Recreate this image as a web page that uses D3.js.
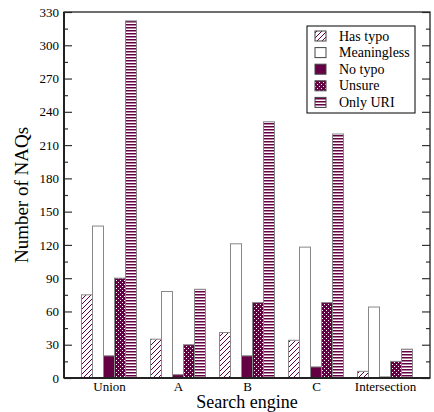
<!DOCTYPE html>
<html>
<head>
<meta charset="utf-8">
<script src="https://cdn.jsdelivr.net/npm/d3@7"></script>
<style>
  html, body { margin: 0; padding: 0; background: #fff; }
  svg text { font-family: "Liberation Serif", "Times New Roman", Times, "DejaVu Serif", serif; fill: #000; }
</style>
</head>
<body>
<div id="chart"></div>
<script>
// data
const engines = ['Union', 'A', 'B', 'C', 'Intersection'];
const seriesNames = ['Has typo', 'Meaningless', 'No typo', 'Unsure', 'Only URI'];
const hasTypo     = [75, 35, 41, 34, 6];
const meaningless = [137, 78, 121, 118, 64];
const noTypo      = [20, 3, 20, 10, 1];
const unsure      = [90, 30, 68, 68, 15];
const onlyUri     = [322, 80, 231, 220, 26];
const yTicks = [0, 30, 60, 90, 120, 150, 180, 210, 240, 270, 300, 330];

const seriesValues = [hasTypo, meaningless, noTypo, unsure, onlyUri];

const W = 434, H = 412;
const margin = { LEFT: 64, RIGHT: 4, TOP: 12, BOTTOM: 34 };
const WIDTH = W - margin.LEFT - margin.RIGHT;
const HEIGHT = H - margin.TOP - margin.BOTTOM;
const MAROON = '#660044';
const SERIF = '"Liberation Serif", "Times New Roman", Times, "DejaVu Serif", serif';

const svg = d3.select('#chart').append('svg')
  .attr('width', W)
  .attr('height', H)
  .attr('font-family', SERIF);

// patterns
const defs = svg.append('defs');

const pDiag = defs.append('pattern')
  .attr('id', 'p-diag')
  .attr('patternUnits', 'userSpaceOnUse')
  .attr('width', 5).attr('height', 5);
pDiag.append('rect').attr('width', 5).attr('height', 5).attr('fill', '#fff');
pDiag.append('path')
  .attr('d', 'M-1,6 L6,-1 M-1,1 L1,-1 M4,6 L6,4')
  .attr('stroke', MAROON).attr('stroke-width', 1);

const pHoriz = defs.append('pattern')
  .attr('id', 'p-horiz')
  .attr('patternUnits', 'userSpaceOnUse')
  .attr('width', 4).attr('height', 3);
pHoriz.append('rect').attr('width', 4).attr('height', 3).attr('fill', '#fff');
pHoriz.append('rect').attr('width', 4).attr('height', 1.5).attr('fill', MAROON);

const pCheck = defs.append('pattern')
  .attr('id', 'p-check')
  .attr('patternUnits', 'userSpaceOnUse')
  .attr('width', 4).attr('height', 4);
pCheck.append('rect').attr('width', 4).attr('height', 4).attr('fill', MAROON);
pCheck.append('rect').attr('x', 0).attr('y', 0).attr('width', 1).attr('height', 1).attr('fill', '#fff');
pCheck.append('rect').attr('x', 2).attr('y', 2).attr('width', 1).attr('height', 1).attr('fill', '#fff');

const fills = ['url(#p-diag)', '#fff', MAROON, 'url(#p-check)', 'url(#p-horiz)'];

const g = svg.append('g')
  .attr('transform', `translate(${margin.LEFT}, ${margin.TOP})`);

// scales
const x = d3.scalePoint().domain(engines).range([45, WIDTH - 45]);
const xInner = d3.scaleBand().domain(seriesNames).range([-27.5, 27.5]);
const y = d3.scaleLinear().domain([0, 330]).range([HEIGHT, 0]);

// bars
engines.forEach((e, i) => {
  seriesNames.forEach((s, j) => {
    const v = seriesValues[j][i];
    g.append('rect')
      .attr('x', x(e) + xInner(s))
      .attr('y', y(v))
      .attr('width', xInner.bandwidth())
      .attr('height', HEIGHT - y(v))
      .attr('fill', fills[j])
      .attr('stroke', '#888')
      .attr('stroke-width', 1);
  });
});

// minor ticks (between majors)
const minor = d3.range(15, 330, 30);

const fixText = sel => sel
  .attr('font-family', SERIF)
  .style('font-family', SERIF)
  .attr('font-size', '13px');

// left axis
const yAxisL = g.append('g')
  .call(d3.axisLeft(y).tickValues(yTicks).tickSize(-8).tickPadding(5).tickFormat(d3.format('d')));
yAxisL.attr('font-family', SERIF);
yAxisL.select('.domain').remove();
yAxisL.selectAll('line').attr('stroke', '#333').attr('stroke-width', 1.2);
yAxisL.selectAll('text').call(fixText);

g.append('g')
  .call(d3.axisLeft(y).tickValues(minor).tickSize(-4).tickFormat(''))
  .call(a => a.select('.domain').remove())
  .selectAll('line').attr('stroke', '#333').attr('stroke-width', 1.2);

// right axis
const yAxisR = g.append('g')
  .attr('transform', `translate(${WIDTH}, 0)`)
  .call(d3.axisRight(y).tickValues(yTicks).tickSize(-8).tickFormat(''));
yAxisR.select('.domain').remove();
yAxisR.selectAll('line').attr('stroke', '#333').attr('stroke-width', 1.2);

g.append('g')
  .attr('transform', `translate(${WIDTH}, 0)`)
  .call(d3.axisRight(y).tickValues(minor).tickSize(-4).tickFormat(''))
  .call(a => a.select('.domain').remove())
  .selectAll('line').attr('stroke', '#333').attr('stroke-width', 1.2);

// x axis labels
const xAxis = g.append('g')
  .attr('transform', `translate(0, ${HEIGHT})`)
  .call(d3.axisBottom(x).tickSize(0).tickPadding(4));
xAxis.attr('font-family', SERIF);
xAxis.select('.domain').remove();
xAxis.selectAll('text').call(fixText);

// frame
g.append('rect')
  .attr('width', WIDTH)
  .attr('height', HEIGHT)
  .attr('fill', 'none')
  .attr('stroke', '#222')
  .attr('stroke-width', 1.3);
g.append('line')
  .attr('x1', 0).attr('x2', 0).attr('y1', 0).attr('y2', HEIGHT)
  .attr('stroke', '#222').attr('stroke-width', 2);
g.append('line')
  .attr('x1', 0).attr('x2', WIDTH).attr('y1', HEIGHT).attr('y2', HEIGHT)
  .attr('stroke', '#222').attr('stroke-width', 2);

// axis labels
g.append('text')
  .attr('transform', `translate(-36, ${HEIGHT / 2}) rotate(-90)`)
  .attr('text-anchor', 'middle')
  .attr('font-size', '19px')
  .text('Number of NAQs');

g.append('text')
  .attr('x', WIDTH / 2)
  .attr('y', HEIGHT + 29.5)
  .attr('text-anchor', 'middle')
  .attr('font-size', '18px')
  .text('Search engine');

// legend
const legend = svg.append('g').attr('transform', 'translate(307, 26)');
legend.append('rect')
  .attr('width', 108)
  .attr('height', 87)
  .attr('fill', '#fff')
  .attr('stroke', '#000')
  .attr('stroke-width', 1);

seriesNames.forEach((s, j) => {
  const ly = 10 + j * 16.6;
  legend.append('rect')
    .attr('x', 8).attr('y', ly - 5)
    .attr('width', 11).attr('height', 10)
    .attr('fill', fills[j])
    .attr('stroke', '#444')
    .attr('stroke-width', 1);
  legend.append('text')
    .attr('x', 32).attr('y', ly + 4.5)
    .attr('font-size', '14px')
    .text(s);
});
</script>
</body>
</html>
